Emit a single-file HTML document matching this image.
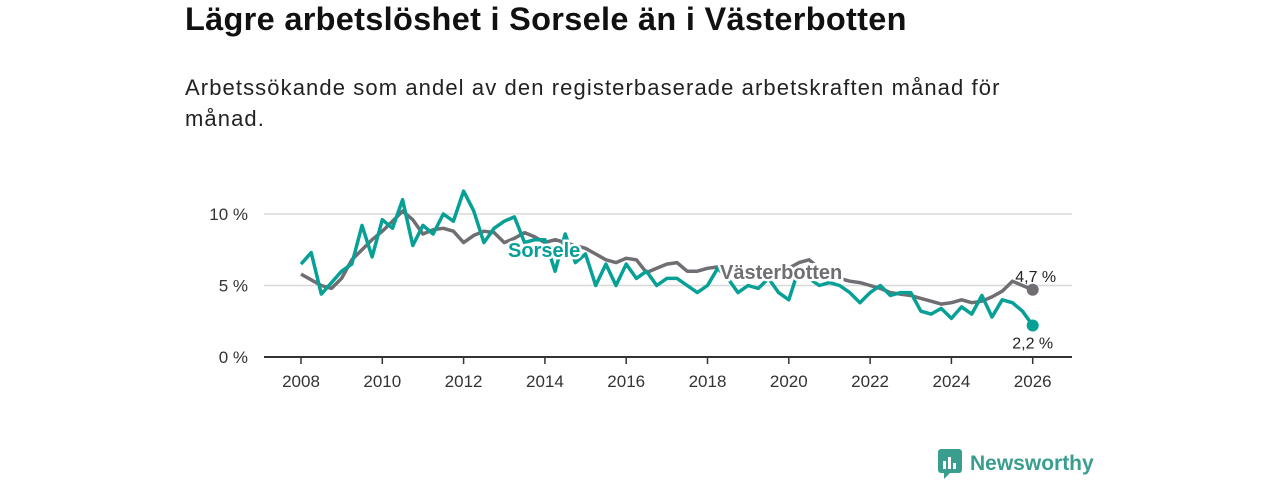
<!DOCTYPE html>
<html><head><meta charset="utf-8"><style>
body{margin:0;width:1280px;height:480px;background:#fff;font-family:"Liberation Sans",sans-serif;overflow:hidden;position:relative;color:#111}
h1{position:absolute;left:185px;top:1px;margin:0;font-size:32.5px;font-weight:bold;letter-spacing:0.3px}
p{position:absolute;left:185px;top:72px;margin:0;font-size:22px;line-height:31px;width:860px;color:#222;letter-spacing:1.1px}
</style></head><body>
<h1>Lägre arbetslöshet i Sorsele än i Västerbotten</h1>
<p>Arbetssökande som andel av den registerbaserade arbetskraften månad för månad.</p>
<svg id="c" width="1280" height="480" style="position:absolute;left:0;top:0"></svg>
<div style="position:absolute;left:938px;top:449px;display:flex;align-items:center;gap:8px">
<svg width="24" height="30"><rect x="0" y="0" width="24" height="24" rx="3" fill="#3a9e8e"/><path d="M6 24 L6 30 L12 24Z" fill="#3a9e8e"/><rect x="5" y="12" width="3" height="8" fill="#fff"/><rect x="10" y="8" width="3" height="12" fill="#fff"/><rect x="15" y="14" width="3" height="6" fill="#fff"/></svg>
<span style="font-size:21px;font-weight:bold;color:#3a9e8e">Newsworthy</span></div>
<script>
const years=[2008,2010,2012,2014,2016,2018,2020,2022,2024,2026];
const yTicks=[0,5,10];
const vasterbotten=[5.8,5.4,5.0,4.8,5.5,6.8,7.5,8.2,8.8,9.5,10.2,9.6,8.6,8.9,9.0,8.8,8.0,8.5,8.8,8.7,8.0,8.3,8.7,8.4,8.0,8.2,8.0,7.8,7.6,7.2,6.8,6.6,6.9,6.8,5.9,6.2,6.5,6.6,6.0,6.0,6.2,6.3,6.0,5.7,5.8,5.6,5.8,6.0,6.2,6.6,6.8,6.2,5.8,5.5,5.3,5.2,5.0,4.8,4.5,4.4,4.3,4.1,3.9,3.7,3.8,4.0,3.8,3.9,4.2,4.6,5.3,5.0,4.7];
const sorsele=[6.5,7.3,4.4,5.2,6.0,6.5,9.2,7.0,9.6,9.0,11.0,7.8,9.2,8.6,10.0,9.5,11.6,10.2,8.0,9.0,9.5,9.8,8.0,8.2,8.2,6.0,8.6,6.6,7.2,5.0,6.5,5.0,6.5,5.5,6.0,5.0,5.5,5.5,5.0,4.5,5.0,6.2,5.5,4.5,5.0,4.8,5.5,4.5,4.0,6.2,5.5,5.0,5.2,5.0,4.5,3.8,4.5,5.0,4.3,4.5,4.5,3.2,3.0,3.4,2.7,3.5,3.0,4.3,2.8,4.0,3.8,3.2,2.2];
const startYear=2008, step=0.25;
const X=y=>301+(y-2008)*40.65, Y=v=>357-v*14.3;
const s=document.getElementById('c'),NS='http://www.w3.org/2000/svg';
function el(t,a,txt){const e=document.createElementNS(NS,t);for(const k in a)e.setAttribute(k,a[k]);if(txt!=null)e.textContent=txt;s.appendChild(e);return e;}
yTicks.forEach(v=>{
 if(v>0){const g=el('line',{x1:264,x2:1072,y1:Y(v),y2:Y(v),stroke:'#d8d8d8','stroke-width':1.5});
 
 }
 const t=el('text',{x:248,y:Y(v)+6,'text-anchor':'end','font-size':17,fill:'#333'},v+' %');
 
 
});
const ax=el('line',{x1:264,x2:1072,y1:357,y2:357,stroke:'#333','stroke-width':2});


years.forEach(y=>{
 el('line',{x1:X(y),x2:X(y),y1:357,y2:364,stroke:'#333','stroke-width':1.5});
 const t=el('text',{x:X(y),y:387,'text-anchor':'middle','font-size':17,fill:'#333'},y);
 
 
});
function line(arr,col,name){
 const d=arr.map((v,i)=>(i?'L':'M')+X(startYear+i*step).toFixed(1)+' '+Y(v).toFixed(1)).join(' ');
 const p=el('path',{d:d,fill:'none',stroke:col,'stroke-width':3.5,'stroke-linejoin':'round'});
 
 
 const n=arr.length-1;
 const c=el('circle',{cx:X(startYear+n*step),cy:Y(arr[n]),r:6,fill:col});
 
 
}
line(vasterbotten,'#706e72','vasterbotten-line');
line(sorsele,'#06a096','sorsele-line');
function lab(x,y,txt,col,name){
 const t=el('text',{x:x,y:y,'font-size':20,'font-weight':'bold',fill:col,stroke:'#fff','stroke-width':5,'paint-order':'stroke'},txt);
 
 
}
lab(508,257,'Sorsele','#06a096','sorsele-label');
lab(720,279,'Västerbotten','#706e72','vasterbotten-label');
const n=vasterbotten.length-1, ex=X(startYear+n*step);
const t1=el('text',{x:ex+3,y:Y(vasterbotten[n])-8,'text-anchor':'middle','font-size':16,fill:'#222'},'4,7 %');


const t2=el('text',{x:ex,y:Y(sorsele[n])+23,'text-anchor':'middle','font-size':16,fill:'#222'},'2,2 %');


</script>
</body></html>
